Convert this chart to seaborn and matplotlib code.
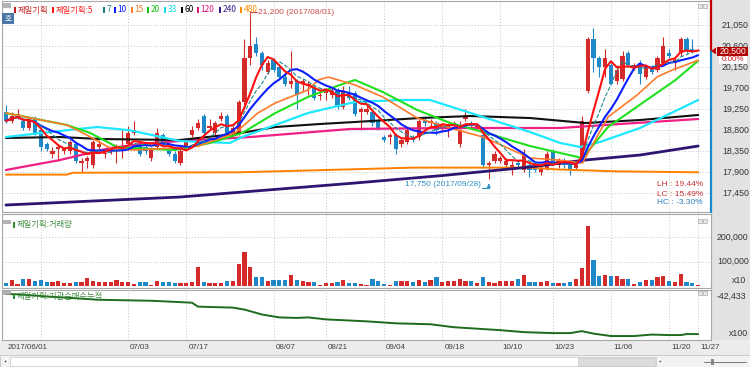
import numpy as np
import pandas as pd
import matplotlib
matplotlib.use("Agg")
import matplotlib.pyplot as plt
from matplotlib.patches import Rectangle, Polygon
from matplotlib.lines import Line2D
from matplotlib.transforms import blended_transform_factory
import seaborn as sns

# ---------------- data ----------------
opens = [19200, 19000, 19100, 19000, 18850, 19050, 18800, 18500, 18300, 18400,
         18350, 18350, 18500, 18100, 18150, 18050, 18450, 18300, 18350, 18400,
         18400, 18500, 18750, 18500, 18450, 18200, 18450, 18700, 18400, 18300,
         18100, 18450, 18700, 18850, 19100, 18850, 18750, 19050, 19100, 18750,
         18750, 19400, 20350, 20650, 20450, 20050, 20300, 20150, 19950, 19800,
         19850, 19800, 19750, 19700, 19550, 19600, 19550, 19650, 19300, 19600,
         19600, 19200, 19200, 19200, 19000, 18650, 18650, 18700, 18500, 18550,
         18650, 18650, 19000, 18950, 18950, 18850, 18850, 18900, 18500, 19050,
         18950, 18850, 18700, 18050, 18150, 18150, 18050, 17950, 18100, 17950,
         18050, 18000, 17900, 18000, 18350, 18050, 18100, 18100, 18000, 18150,
         19650, 20750, 20350, 20150, 20200, 19850, 19900, 20450, 20150, 20250,
         19950, 20150, 20100, 20250, 20450, 20250, 20450, 20750, 20550, 20500]
highs = [19350, 19200, 19250, 19050, 19050, 19100, 18850, 18550, 18450, 18500,
         18450, 18600, 18550, 18200, 18250, 18600, 18600, 18400, 18450, 18500,
         18800, 18900, 19000, 18550, 18500, 18450, 18850, 18750, 18450, 18350,
         18400, 18600, 18900, 19050, 19150, 19050, 19000, 19200, 19150, 18900,
         19450, 20750, 21200, 20800, 20500, 20300, 20350, 20200, 20000, 20500,
         19900, 19900, 19850, 19750, 19650, 19700, 19700, 19700, 19750, 19750,
         19650, 19300, 19350, 19250, 19050, 18700, 18750, 18750, 18650, 18850,
         18700, 19050, 19100, 19050, 19000, 18950, 18950, 19000, 19000, 19250,
         19000, 18950, 18750, 18150, 18350, 18250, 18200, 18150, 18150, 18400,
         18100, 18050, 18050, 18350, 18400, 18200, 18200, 18150, 18100, 19100,
         20800, 21000, 20400, 20550, 20250, 20200, 20500, 20500, 20250, 20300,
         20200, 20200, 20400, 20800, 20550, 20350, 20800, 20800, 20750, 20500]
lows = [18950, 18950, 19050, 18800, 18800, 18700, 18350, 18350, 18200, 18150,
        18300, 18300, 18100, 17900, 18000, 18000, 18400, 18200, 18300, 18100,
        18200, 18450, 18700, 18250, 18300, 18150, 18400, 18450, 18250, 18100,
        18050, 18400, 18650, 18800, 18700, 18800, 18700, 19000, 18700, 18650,
        18700, 19350, 20200, 20400, 20100, 20000, 20050, 19900, 19750, 19700,
        19250, 19650, 19550, 19450, 19450, 19450, 19500, 19250, 19250, 19450,
        19100, 18800, 19150, 18900, 18800, 18550, 18500, 18300, 18450, 18500,
        18550, 18600, 18900, 18850, 18700, 18800, 18650, 18850, 18450, 19000,
        18850, 18800, 18000, 17750, 18100, 18100, 18000, 17850, 18000, 17900,
        17800, 17900, 17850, 17950, 18050, 18000, 18000, 17850, 17950, 18100,
        19600, 20050, 19950, 19950, 19800, 19800, 19850, 20150, 20100, 19800,
        19900, 20000, 20050, 20200, 20350, 20100, 20400, 20450, 20450, 20500]
closes = [19000, 19100, 19150, 18850, 19000, 18750, 18450, 18400, 18350, 18450,
          18400, 18550, 18150, 18150, 18200, 18550, 18500, 18300, 18400, 18450,
          18450, 18750, 18800, 18300, 18350, 18400, 18750, 18500, 18300, 18150,
          18350, 18550, 18800, 18950, 18750, 18900, 18950, 19100, 18750, 18850,
          19400, 20350, 20600, 20450, 20200, 20250, 20100, 19950, 19800, 19850,
          19550, 19850, 19800, 19500, 19550, 19650, 19650, 19300, 19650, 19500,
          19150, 19250, 19250, 18950, 18850, 18600, 18700, 18400, 18600, 18800,
          18600, 19000, 18950, 19000, 18800, 18900, 18900, 18950, 18800, 19100,
          18900, 18900, 18050, 18100, 18300, 18200, 18150, 18050, 18050, 18300,
          17950, 17950, 18000, 18300, 18100, 18150, 18050, 17950, 18050, 19000,
          20750, 20350, 20150, 20350, 19800, 20100, 20400, 20200, 20200, 20000,
          20150, 20050, 20350, 20600, 20400, 20300, 20750, 20500, 20500, 20500]
volumes = [11000, 24000, 8000, 27000, 27000, 22000, 24000, 17000, 17000, 20000,
           11000, 11000, 15000, 17000, 31000, 22000, 17000, 17000, 15000, 24000,
           17000, 17000, 8000, 15000, 15000, 3000, 22000, 15000, 15000, 13000,
           11000, 13000, 17000, 78000, 17000, 11000, 11000, 11000, 20000, 20000,
           92000, 139000, 78000, 35000, 35000, 19000, 26000, 26000, 26000, 47000,
           26000, 20000, 17000, 17000, 4000, 11000, 11000, 17000, 24000, 13000,
           11000, 8000, 4000, 27000, 22000, 8000, 4000, 22000, 20000, 22000,
           17000, 24000, 17000, 24000, 38000, 17000, 22000, 22000, 27000, 22000,
           22000, 13000, 35000, 17000, 11000, 22000, 22000, 22000, 27000, 45000,
           17000, 17000, 17000, 20000, 11000, 11000, 13000, 17000, 27000, 72000,
           247000, 108000, 40000, 45000, 40000, 40000, 27000, 27000, 8000, 17000,
           24000, 24000, 35000, 40000, 20000, 17000, 49000, 17000, 11000, 5000]

# moving averages (index, price)
ma15_x = [0, 10.5, 13.9, 17.9, 21.9, 29.1, 33, 39.4, 43.3, 46.3, 51.9, 53.7, 55.4, 60,
          64.8, 70.7, 76.4, 82, 90.1, 94.9, 99.1, 103.5, 108.5, 112, 114.7, 119]
ma15_y = [19170, 18913, 18699, 18420, 18378, 18420, 18460, 18742, 19170, 19385, 19663,
          19878, 19942, 19771, 19513, 19063, 18849, 18656, 18206, 18163, 18099, 19085,
          19556, 19950, 20100, 20300]
ma20_x = [0, 10.5, 14.5, 19.1, 24.8, 29.1, 35.1, 40.6, 46.3, 51.9, 57.4, 60, 64.8, 70.7,
          76.4, 82, 90.1, 95.3, 99.1, 103.5, 109.4, 115.1, 119]
ma20_y = [19170, 18913, 18742, 18442, 18399, 18378, 18528, 18742, 19170, 19513, 19771,
          19878, 19620, 19235, 18956, 18763, 18463, 18313, 18206, 18870, 19385, 19878, 20290]
ma33_x = [0, 7.6, 15.7, 21.3, 29.9, 38.5, 40.6, 46.3, 51.9, 60, 67.8, 72.9, 81.5, 90.1,
          95.3, 98.7, 102.1, 109, 119]
ma33_y = [18656, 18763, 18870, 18800, 18570, 18528, 18656, 18913, 19170, 19406, 19449,
          19449, 19106, 18763, 18528, 18442, 18549, 18849, 19449]
ma60_x = [0, 9.3, 16.2, 29.9, 39.4, 46.3, 54, 60, 71.2, 79.8, 90.1, 99.6, 109, 119]
ma60_y = [18635, 18656, 18613, 18592, 18720, 18870, 18935, 18978, 19063, 19106, 19063,
          18956, 19020, 19128]
ma120_x = [0, 9.3, 17.9, 23.1, 29.9, 42, 50.6, 59.2, 76.4, 90.1, 95.3, 105.6, 119]
ma120_y = [17949, 18163, 18420, 18506, 18570, 18656, 18742, 18828, 18849, 18849, 18849,
           18935, 19042]
ma240_x = [0, 29.9, 60, 75, 90.1, 99.6, 109, 119]
ma240_y = [17199, 17370, 17670, 17830, 18013, 18163, 18270, 18463]
ma480_x = [0, 10.5, 11.5, 40, 55, 70, 90, 95, 105, 119]
ma480_y = [17850, 17850, 17890, 17900, 17949, 18000, 18000, 17960, 17920, 17900]

# institutional cumulative net buying (x100)
cum_x = [0, 2, 8, 16, 25, 32, 33, 39, 41, 44, 47, 50, 52, 55, 62, 67, 73, 77, 81, 85,
         89, 94, 97, 99, 101, 104, 108, 111, 114, 116, 117, 119]
cum_v = [-40400, -40900, -43400, -46400, -47400, -49400, -53400, -54400, -56400, -61400,
         -64400, -64900, -64400, -66400, -68400, -70400, -71400, -74400, -75900, -77400,
         -79400, -80400, -80400, -78400, -80900, -83400, -83400, -81900, -82400, -82400,
         -81400, -81400]

label_idx = [0, 21, 31, 46, 55, 65, 75, 85, 94, 104, 114, 119]
date_labels = ['2017/06/01', '07/03', '07/17', '08/07', '08/21', '09/04', '09/18',
               '10/10', '10/23', '11/06', '11/20', '11/27']
grid_idx = [6, 21, 31, 46, 55, 65, 75, 85, 94, 104, 114, 119]
price_ticks = [17450, 17900, 18350, 18800, 19250, 19700, 20150, 20600, 21050]
vol_ticks = [100000, 200000]
hi_date, lo_date = '2017/08/01', '2017/09/28'
legend_names = ['제일기획', '제일기획:5', '7', '10', '15', '20', '33', '60', '120', '240', '480']

# ---------------- style ----------------
sns.set_style('white')
plt.rcParams['font.family'] = ['Noto Sans CJK KR', 'DejaVu Sans']
NUM = ['Liberation Sans', 'DejaVu Sans']
RED = '#d42a2a'
BLUE = '#1e88c8'
GRID = '#c4c4c4'

W, H = 750, 367
fig = plt.figure(figsize=(7.5, 3.67), dpi=100)
fig.patch.set_facecolor('white')


def fx(x):
    return x / W


def fy(y):
    return 1 - y / H


def frect(x0, y0, x1, y1, **kw):
    r = Rectangle((fx(x0), fy(y1)), fx(x1) - fx(x0), fy(y0) - fy(y1),
                  transform=fig.transFigure, **kw)
    fig.add_artist(r)
    return r


def ftext(x, y, s, **kw):
    kw.setdefault('va', 'center')
    return fig.text(fx(x), fy(y), s, **kw)


def fline(xs, ys, **kw):
    fig.add_artist(Line2D([fx(v) for v in xs], [fy(v) for v in ys],
                          transform=fig.transFigure, **kw))


# background strips
frect(711, 0, 750, 340, facecolor='#e2e2e2', edgecolor='none', zorder=0)
frect(0, 340, 750, 355, facecolor='#ececec', edgecolor='none', zorder=0)

XL = (-0.67, 121.2)


def add_ax(y0, y1):
    ax = fig.add_axes([fx(2), fy(y1), fx(711) - fx(2), fy(y0) - fy(y1)])
    ax.set_facecolor('white')
    for s in ax.spines.values():
        s.set_color('#a8a8a8')
        s.set_linewidth(0.8)
    return ax


ax_p = add_ax(1, 212)
ax_v = add_ax(214, 288)
ax_c = add_ax(290, 340)

idx = np.arange(len(closes))
o = np.array(opens, float)
c = np.array(closes, float)
hgh = np.array(highs, float)
low = np.array(lows, float)
up = c >= o
cols = np.where(up, RED, BLUE)

# ---------------- price panel ----------------
for t in price_ticks:
    ax_p.axhline(t, color=GRID, lw=0.7, ls=(0, (1, 2)), zorder=1)
for ax in (ax_p, ax_v, ax_c):
    for g in grid_idx:
        ax.axvline(g, color=GRID, lw=0.7, ls=(0, (1, 2)), zorder=1)

ax_p.vlines(idx, low, hgh, colors=cols, lw=0.8, zorder=3)
body = np.maximum(np.abs(c - o), 22)
ax_p.bar(idx, body, bottom=np.minimum(o, c) - np.where(c == o, 11, 0), width=0.72,
         color=cols, linewidth=0, zorder=3)

close_s = pd.Series(c)
ma5 = close_s.rolling(5, min_periods=1).mean()
ma7 = close_s.rolling(7, min_periods=1).mean()
ma10 = close_s.rolling(10, min_periods=1).mean()

line_specs = [
    (ma480_x, ma480_y, '#ff8000', 1.4, '-'),
    (ma240_x, ma240_y, '#2e1670', 2.0, '-'),
    (ma120_x, ma120_y, '#ef1f86', 1.6, '-'),
    (ma60_x, ma60_y, '#111111', 1.5, '-'),
    (ma33_x, ma33_y, '#1ee8ff', 1.6, '-'),
    (ma20_x, ma20_y, '#1ee01e', 1.5, '-'),
    (ma15_x, ma15_y, '#ff7a2a', 1.2, '-'),
    (idx, ma10, '#0a1eff', 1.5, '-'),
    (idx, ma7, '#1a8a8a', 0.8, '--'),
    (idx, ma5, '#ff1010', 1.5, '-'),
]
for xs, ys, col, lw, ls in line_specs:
    sns.lineplot(x=np.asarray(xs, float), y=np.asarray(ys, float), ax=ax_p, color=col,
                 linewidth=lw, linestyle=ls, estimator=None, sort=False, legend=False,
                 zorder=4)

# high / low annotations
hi_i = int(np.argmax(hgh))
lo_i = int(np.argmin(low))
hi_v, lo_v = hgh[hi_i], low[lo_i]
ax_p.plot([hi_i, hi_i, hi_i + 1.2], [hi_v, hi_v + 125, hi_v + 125], color='#d04a4a',
          lw=0.8, zorder=5)
ax_p.text(hi_i + 1.4, hi_v + 125, f'{hi_v:,.0f} ({hi_date})', color='#d04a4a',
          fontsize=6, family=NUM, va='center', ha='left', zorder=6)
ax_p.plot([lo_i - 1.2, lo_i], [lo_v - 185, lo_v - 185], color='#2f8fbf', lw=0.8, zorder=5)
ax_p.annotate('', xy=(lo_i, lo_v - 30), xytext=(lo_i, lo_v - 185),
              arrowprops=dict(arrowstyle='-|>', color='#2f8fbf', lw=0.8, mutation_scale=5),
              zorder=5)
ax_p.text(lo_i - 1.4, lo_v - 120, f'{lo_v:,.0f} ({lo_date})', color='#2f8fbf',
          fontsize=6, family=NUM, va='center', ha='right', zorder=6)

ax_p.set_xlim(*XL)
ax_p.set_ylim(17049, 21571)

# ---------------- volume panel ----------------
for t in vol_ticks:
    ax_v.axhline(t, color=GRID, lw=0.7, ls=(0, (1, 2)), zorder=1)
ax_v.bar(idx, volumes, width=0.72, color=cols, linewidth=0, zorder=3)
ax_v.set_xlim(*XL)
ax_v.set_ylim(-8100, 295650)

# ---------------- cumulative panel ----------------
sns.lineplot(x=cum_x, y=cum_v, ax=ax_c, color='#1d6b1d', linewidth=1.4,
             estimator=None, sort=False, legend=False, zorder=4)
ax_c.set_xlim(*XL)
ax_c.set_ylim(-87433, -36433)

for ax in (ax_p, ax_v, ax_c):
    ax.set_xticks([])
    ax.set_yticks([])
    ax.set_xlabel('')
    ax.set_ylabel('')

# ---------------- right axis labels ----------------
tp = blended_transform_factory(fig.transFigure, ax_p.transData)
for t in price_ticks:
    fig.text(fx(722), t, f'{t:,}', transform=tp, fontsize=6.3, family=NUM,
             color='#333333', va='center', ha='left', zorder=2)
tv = blended_transform_factory(fig.transFigure, ax_v.transData)
for t in vol_ticks:
    fig.text(fx(717), t, f'{t:,}', transform=tv, fontsize=6.3, family=NUM,
             color='#333333', va='center', ha='left')
fig.text(fx(732), 24300, 'x10', transform=tv, fontsize=6.3, family=NUM,
         color='#333333', va='center', ha='left')
tc = blended_transform_factory(fig.transFigure, ax_c.transData)
fig.text(fx(717), -42433, '-42,433', transform=tc, fontsize=6.3, family=NUM,
         color='#333333', va='center', ha='left')
fig.text(fx(729), -80433, 'x100', transform=tc, fontsize=6.3, family=NUM,
         color='#333333', va='center', ha='left')

# current price marker and position bar
last = c[-1]
prev = c[-2]
fline([711, 711], [0, 51], color='#c00000', lw=1.6, zorder=3)
fline([711, 711], [51, 212], color='#1a8ad0', lw=1.6, zorder=3)
tri = Polygon([(fx(711), fy(51)), (fx(716), fy(47.5)), (fx(716), fy(54.5))],
              closed=True, transform=fig.transFigure, facecolor='#c00000',
              edgecolor='none', zorder=5)
fig.add_artist(tri)
frect(717, 46.5, 748, 55.5, facecolor='#b00000', edgecolor='none', zorder=5)
ftext(732.5, 51, f'{last:,.0f}', fontsize=6.3, family=NUM, color='white',
      ha='center', zorder=6)
frect(719, 56, 747, 63.5, facecolor='white', edgecolor='none', zorder=5)
ftext(733, 59.5, f'{(last / prev - 1) * 100:.2f}%', fontsize=5.8, family=NUM,
      color='#d02020', ha='center', zorder=6)

# LH / LC / HC
lh = (hi_v / lo_v - 1) * 100
lc = (last / lo_v - 1) * 100
hc = (last / hi_v - 1) * 100
ftext(703, 185, f'LH : {lh:.2f}%', fontsize=6, family=NUM, color='#c83030', ha='right')
ftext(703, 194, f'LC : {lc:.2f}%', fontsize=6, family=NUM, color='#c83030', ha='right')
ftext(703, 203, f'HC : {hc:.2f}%', fontsize=6, family=NUM, color='#2f7fc0', ha='right')

# ---------------- legend row ----------------
leg_cols = ['#c81e1e', '#ff1a1a', '#108080', '#0a1eff', '#ff7a2a', '#10c010',
            '#10d8e8', '#000000', '#e0107f', '#3a1a8a', '#ff8c00']
leg_x = [14, 52, 103, 114, 131, 147, 164, 181, 197, 219, 240]
for name, col, lx in zip(legend_names, leg_cols, leg_x):
    frect(lx, 7, lx + 2, 13, facecolor=col, edgecolor='none', zorder=6)
    ftext(lx + 3.5, 10, name, fontsize=6, color=col, ha='left', zorder=6)

frect(3, 2.5, 10, 6.5, facecolor='#b4b4b4', edgecolor='#909090', lw=0.4, zorder=6)
frect(2, 13, 14, 24, facecolor='#4b77a8', edgecolor='none', zorder=6)
ftext(8, 18.5, '호', fontsize=5.5, color='white', ha='center', zorder=7)

# panel titles
for ty, title in ((225, '제일기획:거래량'), (296, '제일기획:기관순매수누적')):
    frect(3, ty - 5, 10, ty - 2, facecolor='#b4b4b4', edgecolor='#909090', lw=0.4, zorder=6)
    frect(13, ty - 3, 15, ty + 3, facecolor='#2e8b2e', edgecolor='none', zorder=6)
    ftext(17, ty, title, fontsize=6, color='#3f8a3f', ha='left', zorder=6)

# small panel buttons
for by in (4, 219, 291):
    for bx in (698, 703):
        frect(bx, by, bx + 4, by + 4, facecolor='#e8e8e8', edgecolor='#9a9a9a',
              lw=0.4, zorder=6)

# ---------------- date labels ----------------
td = blended_transform_factory(ax_c.transData, fig.transFigure)
for i, lab in zip(label_idx, date_labels):
    fig.text(i + 0.35, fy(347.5), lab, transform=td, fontsize=5.8, family=NUM,
             color='#404040', ha='left', va='center')

# ---------------- scrollbar ----------------
frect(0, 355, 750, 367, facecolor='#f2f2f2', edgecolor='#b8b8b8', lw=0.5, zorder=1)
frect(10, 357, 656, 366, facecolor='white', edgecolor='#c8c8c8', lw=0.5, zorder=2)
frect(578, 357.5, 655, 365.5, facecolor='#dcdcdc', edgecolor='#c0c0c0', lw=0.4, zorder=3)
fig.add_artist(Polygon([(fx(3), fy(361.5)), (fx(7), fy(359)), (fx(7), fy(364))],
                       closed=True, transform=fig.transFigure, facecolor='#333333',
                       zorder=3))
fig.add_artist(Polygon([(fx(663), fy(361.5)), (fx(659), fy(359)), (fx(659), fy(364))],
                       closed=True, transform=fig.transFigure, facecolor='#333333',
                       zorder=3))
fline([704, 746], [362, 362], color='#666666', lw=0.6, zorder=3)
frect(711, 358.5, 714, 364.5, facecolor='#888888', edgecolor='none', zorder=3)

fig.savefig('out.png', dpi=100)
